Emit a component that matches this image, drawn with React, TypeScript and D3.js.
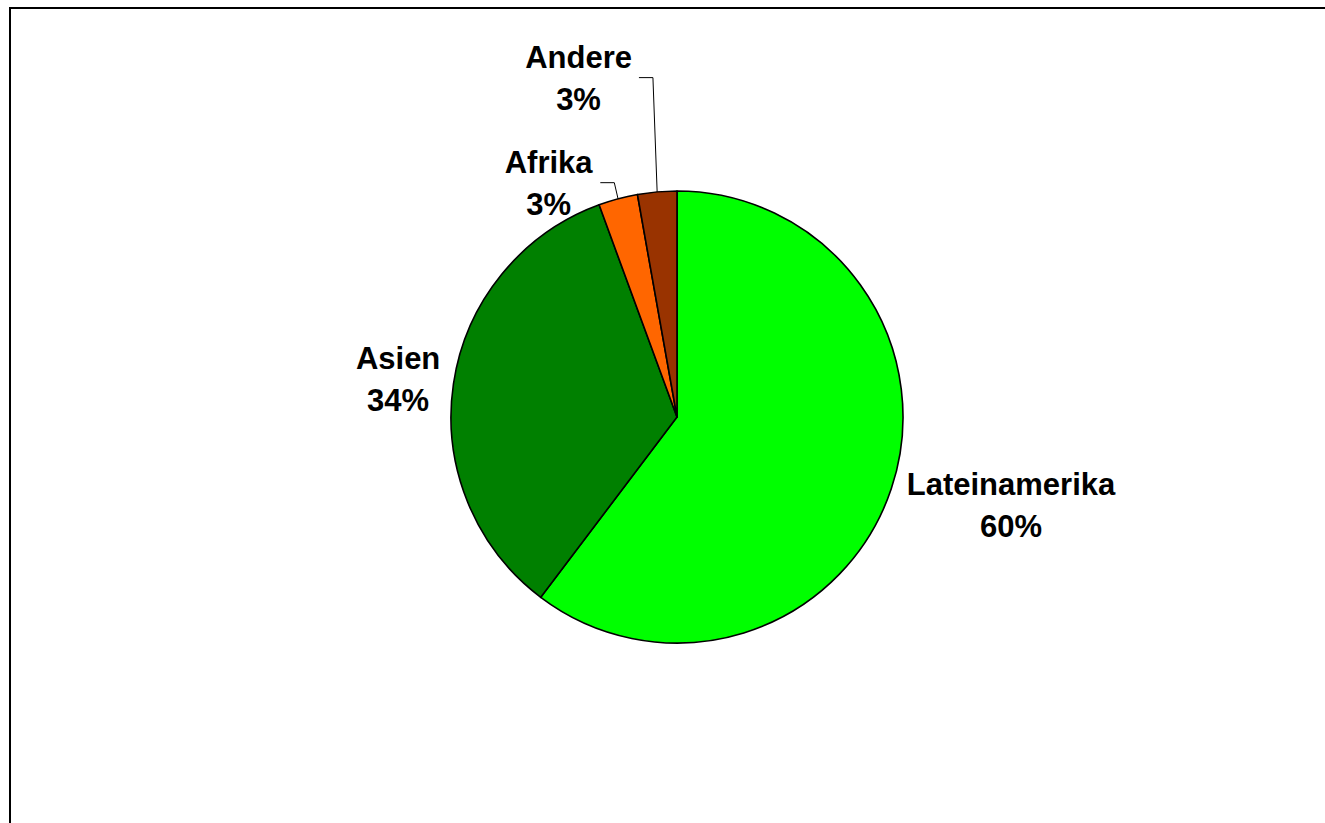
import React, { useEffect, useRef } from "react";
import * as d3 from "d3";

const categories = ["Lateinamerika", "Asien", "Afrika", "Andere"];
const values = [60.3, 34.1, 2.8, 2.8];
const colors = ["#00FF00", "#008000", "#FF6600", "#993300"];

// label layout: angle shift (deg) from slice mid angle, radius of first-line baseline anchor, leader flag
const labelLayout = [
  { shift: -5.4, rad: 343, leader: false },
  { shift: 1.3, rad: 283, leader: false },
  { shift: -12.6, rad: 276, leader: true },
  { shift: -10.7, rad: 363, leader: true },
];

const W = 1325;
const H = 823;
const CX = 677;
const CY = 417;
const R = 226;
const LINE = 42;

export default function App() {
  const ref = useRef<SVGSVGElement | null>(null);

  useEffect(() => {
    const svg = d3.select(ref.current);
    svg.selectAll("*").remove();

    svg.append("rect").attr("x", 0).attr("y", 0).attr("width", W).attr("height", H).attr("fill", "white");
    svg
      .append("path")
      .attr("d", `M10,${H + 10} L10,8 L${W + 10},8`)
      .attr("fill", "none")
      .attr("stroke", "black")
      .attr("stroke-width", 2);

    const data = categories.map((c, i) => ({ name: c, value: values[i], color: colors[i] }));
    const pie = d3
      .pie<any>()
      .sort(null)
      .value((d: any) => d.value);
    const arcs = pie(data);
    const arc = d3.arc<any>().innerRadius(0).outerRadius(R);

    const g = svg.append("g").attr("transform", `translate(${CX},${CY})`);
    g.selectAll("path")
      .data(arcs)
      .enter()
      .append("path")
      .attr("d", arc as any)
      .attr("fill", (d: any) => d.data.color)
      .attr("stroke", "black")
      .attr("stroke-width", 1.6)
      .attr("stroke-linejoin", "round");

    const total = d3.sum(values);

    arcs.forEach((a: any, i: number) => {
      const lay = labelLayout[i];
      const mid = (a.startAngle + a.endAngle) / 2;
      const ang = mid + (lay.shift * Math.PI) / 180;
      const [lx, ly] = d3.pointRadial(ang, lay.rad);
      const t = g
        .append("text")
        .attr("text-anchor", "middle")
        .attr("font-family", "'Liberation Sans', Arial, sans-serif")
        .attr("font-weight", "bold")
        .attr("font-size", 31)
        .attr("fill", "black");
      t.append("tspan").attr("x", lx).attr("y", ly).text(a.data.name);
      t.append("tspan")
        .attr("x", lx)
        .attr("y", ly + LINE)
        .text(`${Math.round((a.data.value / total) * 100)}%`);

      if (lay.leader) {
        const bb = (t.node() as SVGTextElement).getBBox();
        const sx = bb.x + bb.width + 7;
        const sy = ly + 10;
        const [ex, ey] = d3.pointRadial(mid, R);
        g.append("polyline")
          .attr("points", `${sx},${sy} ${sx + 14},${sy} ${ex},${ey}`)
          .attr("fill", "none")
          .attr("stroke", "black")
          .attr("stroke-width", 1);
      }
    });
  }, []);

  return (
    <svg
      ref={ref}
      width={W}
      height={H}
      style={{ position: "fixed", left: 0, top: 0, display: "block", overflow: "hidden" }}
    />
  );
}
